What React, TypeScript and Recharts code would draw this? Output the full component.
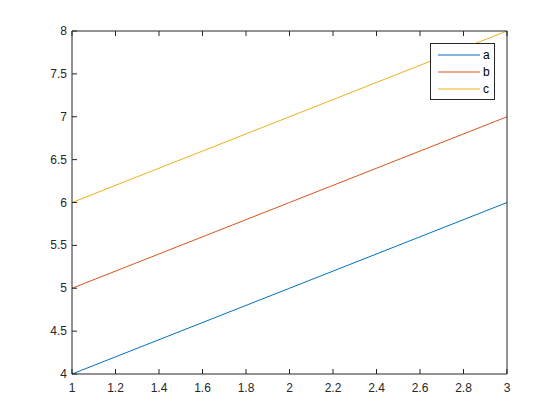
import React from "react";
import { LineChart, Line, XAxis, YAxis, Legend } from "recharts";

const xValues = [1, 2, 3];
const seriesA = [4, 5, 6];
const seriesB = [5, 6, 7];
const seriesC = [6, 7, 8];
const seriesNames = ["a", "b", "c"];
const seriesColors = ["#0072BD", "#D95319", "#EDB120"];
const xTicks = [1, 1.2, 1.4, 1.6, 1.8, 2, 2.2, 2.4, 2.6, 2.8, 3];
const yTicks = [4, 4.5, 5, 5.5, 6, 6.5, 7, 7.5, 8];

const data = xValues.map((x, i) => ({ x, a: seriesA[i], b: seriesB[i], c: seriesC[i] }));

const AX = "#262626";
const FONT = "'Liberation Sans', Arial, Helvetica, sans-serif";

const BottomTick = (props: any) => {
  const { x, y, payload } = props;
  return (
    <g>
      <line x1={x} y1={y} x2={x} y2={y - 5} stroke={AX} strokeWidth={1} />
      <text x={x} y={y + 18} textAnchor="middle" fill={AX} fontSize={12} fontFamily={FONT}>
        {String(payload.value)}
      </text>
    </g>
  );
};
const TopTick = (props: any) => {
  const { x, y } = props;
  return <line x1={x} y1={y} x2={x} y2={y + 5} stroke={AX} strokeWidth={1} />;
};
const LeftTick = (props: any) => {
  const { x, y, payload } = props;
  return (
    <g>
      <line x1={x} y1={y} x2={x + 5} y2={y} stroke={AX} strokeWidth={1} />
      <text x={x - 5} y={y + 4} textAnchor="end" fill={AX} fontSize={12} fontFamily={FONT}>
        {String(payload.value)}
      </text>
    </g>
  );
};
const RightTick = (props: any) => {
  const { x, y } = props;
  return <line x1={x} y1={y} x2={x - 5} y2={y} stroke={AX} strokeWidth={1} />;
};

const LegendBox = (props: any) => {
  const payload = props.payload || [];
  return (
    <svg width={66} height={58} style={{ display: "block" }}>
      <rect x={0.5} y={0.5} width={64} height={56} fill="#fff" stroke={AX} strokeWidth={1} />
      {payload.map((p: any, i: number) => (
        <g key={i}>
          <line x1={8} x2={50} y1={12 + i * 17} y2={12 + i * 17} stroke={p.color} strokeWidth={1} />
          <text x={53} y={16 + i * 17} fontSize={12} fontFamily={FONT} fill="#000">
            {p.value}
          </text>
        </g>
      ))}
    </svg>
  );
};

export default function App() {
  const keys = ["a", "b", "c"];
  return (
    <div style={{ position: "absolute", left: 0, top: 0, width: 560, height: 420, background: "#fff" }}>
      <LineChart width={560} height={420} data={data} margin={{ top: 1, right: 23, bottom: 16, left: 12 }}>
        <XAxis
          xAxisId="bottom"
          dataKey="x"
          type="number"
          domain={[1, 3]}
          ticks={xTicks}
          orientation="bottom"
          height={30}
          tickSize={0}
          tickMargin={0}
          tickLine={false}
          stroke={AX}
          tick={<BottomTick />}
          interval={0}
        />
        <XAxis
          xAxisId="top"
          dataKey="x"
          type="number"
          domain={[1, 3]}
          ticks={xTicks}
          orientation="top"
          height={30}
          tickSize={0}
          tickMargin={0}
          tickLine={false}
          stroke={AX}
          tick={<TopTick />}
          interval={0}
        />
        <YAxis
          yAxisId="left"
          type="number"
          domain={[4, 8]}
          ticks={yTicks}
          orientation="left"
          width={60}
          tickSize={0}
          tickMargin={0}
          tickLine={false}
          stroke={AX}
          tick={<LeftTick />}
          interval={0}
        />
        <YAxis
          yAxisId="right"
          type="number"
          domain={[4, 8]}
          ticks={yTicks}
          orientation="right"
          width={30}
          tickSize={0}
          tickMargin={0}
          tickLine={false}
          stroke={AX}
          tick={<RightTick />}
          interval={0}
        />
        {keys.map((k, i) => (
          <Line
            key={k}
            xAxisId="bottom"
            yAxisId="left"
            dataKey={k}
            name={seriesNames[i]}
            stroke={seriesColors[i]}
            strokeWidth={1}
            dot={false}
            activeDot={false}
            type="linear"
            isAnimationActive={false}
          />
        ))}
        <Legend
          content={<LegendBox />}
          layout="horizontal"
          verticalAlign="middle"
          align="center"
          wrapperStyle={{ position: "absolute", left: 430, top: 43, width: 66, height: 58 }}
        />
      </LineChart>
    </div>
  );
}
